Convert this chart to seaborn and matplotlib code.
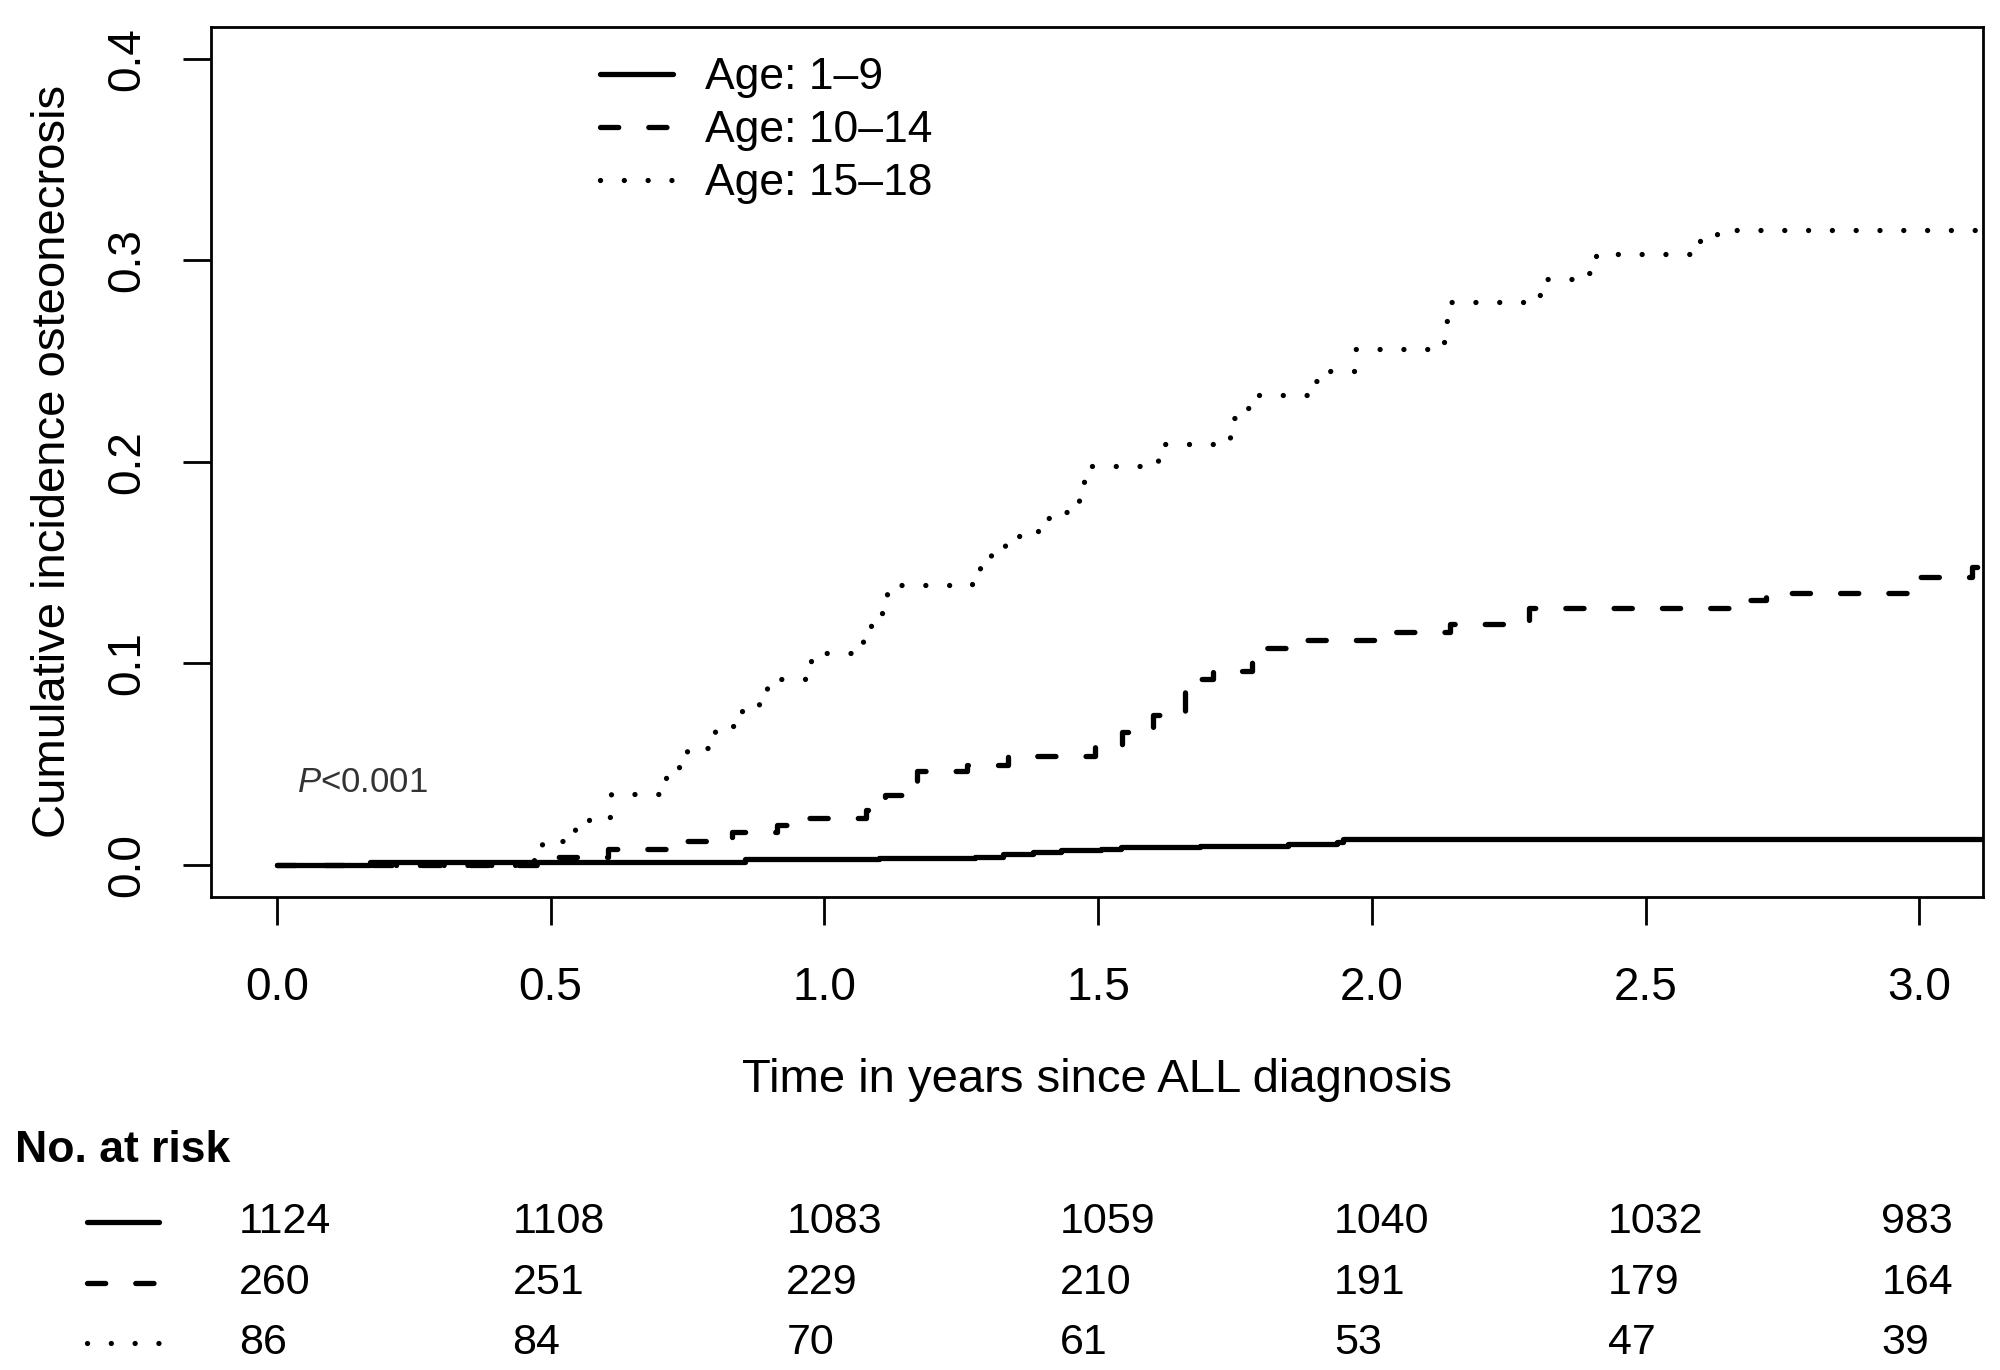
import numpy as np
import pandas as pd
import matplotlib
matplotlib.use("Agg")
import matplotlib.pyplot as plt
import matplotlib.transforms as mtransforms
from matplotlib.lines import Line2D
import seaborn as sns

# cumulative incidence step curves (time in years, value)
t_1_9 = [0, 0.17, 0.855, 1.10, 1.275, 1.327, 1.381, 1.433, 1.505, 1.542, 1.686, 1.846, 1.937, 1.947, 3.12]
ci_1_9 = [0, 0.0015, 0.0027, 0.0033, 0.0040, 0.0053, 0.0065, 0.0075, 0.0078, 0.0086, 0.0094, 0.0103, 0.0112, 0.0128, 0.0128]

t_10_14 = [0, 0.50, 0.605, 0.727, 0.832, 0.913, 0.948, 1.077, 1.111, 1.17, 1.261, 1.336, 1.494, 1.543, 1.601,
           1.659, 1.709, 1.781, 1.859, 2.02, 2.142, 2.287, 2.68, 2.72, 2.986, 3.096, 3.12]
ci_10_14 = [0, 0.004, 0.0078, 0.0116, 0.0161, 0.0199, 0.0232, 0.0272, 0.0346, 0.0467, 0.0497, 0.0541, 0.0583,
            0.0658, 0.0744, 0.0923, 0.0964, 0.1077, 0.1117, 0.1155, 0.1196, 0.1275, 0.1312, 0.1349, 0.1427,
            0.1478, 0.1478]

t_15_18 = [0, 0.47, 0.485, 0.545, 0.57, 0.61, 0.71, 0.735, 0.75, 0.80, 0.85, 0.88, 0.895, 0.965, 0.975, 1.07,
           1.085, 1.105, 1.115, 1.27, 1.285, 1.305, 1.33, 1.39, 1.42, 1.45, 1.465, 1.475, 1.61, 1.73, 1.74,
           1.76, 1.785, 1.89, 1.915, 1.97, 2.125, 2.135, 2.145, 2.305, 2.32, 2.395, 2.41, 2.60, 2.63, 3.12]
ci_15_18 = [0, 0.0035, 0.012, 0.018, 0.0235, 0.035, 0.046, 0.051, 0.058, 0.069, 0.078, 0.082, 0.092, 0.095,
            0.105, 0.112, 0.124, 0.128, 0.139, 0.143, 0.151, 0.158, 0.163, 0.172, 0.175, 0.18, 0.187, 0.198,
            0.209, 0.212, 0.222, 0.227, 0.233, 0.24, 0.245, 0.256, 0.2595, 0.270, 0.2795, 0.283, 0.291, 0.294,
            0.303, 0.311, 0.315, 0.315]

groups = ["Age: 1\u20139", "Age: 10\u201314", "Age: 15\u201318"]

# numbers at risk
risk_times = [0.0, 0.5, 1.0, 1.5, 2.0, 2.5, 3.0]
risk_1_9 = [1124, 1108, 1083, 1059, 1040, 1032, 983]
risk_10_14 = [260, 251, 229, 210, 191, 179, 164]
risk_15_18 = [86, 84, 70, 61, 53, 47, 39]

x_ticks = [0.0, 0.5, 1.0, 1.5, 2.0, 2.5, 3.0]
y_ticks = [0.0, 0.1, 0.2, 0.3, 0.4]

df = pd.concat([
    pd.DataFrame({"time": t_1_9, "ci": ci_1_9, "group": groups[0]}),
    pd.DataFrame({"time": t_10_14, "ci": ci_10_14, "group": groups[1]}),
    pd.DataFrame({"time": t_15_18, "ci": ci_15_18, "group": groups[2]}),
], ignore_index=True)

sns.set_theme(style="ticks")
plt.rcParams['font.family'] = ['Liberation Sans', 'DejaVu Sans']
plt.rcParams['mathtext.fontset'] = 'custom'
plt.rcParams['mathtext.it'] = 'Liberation Sans:italic'
plt.rcParams['mathtext.rm'] = 'Liberation Sans'
plt.rcParams['text.color'] = 'black'
plt.rcParams['axes.labelcolor'] = 'black'
plt.rcParams['xtick.color'] = 'black'
plt.rcParams['ytick.color'] = 'black'

LW = 3.8
dash_map = {groups[0]: "", groups[1]: (3.45, 5.7), groups[2]: (0.01, 4.5)}

fig = plt.figure(figsize=(20, 13.7), dpi=100)
ax = fig.add_axes([0.10525, 0.34526, 0.88625, 0.63518])

sns.lineplot(data=df, x="time", y="ci", style="group", style_order=groups, dashes=dash_map,
             color="black", lw=LW, estimator=None, sort=False, drawstyle="steps-post",
             dash_capstyle="round", solid_capstyle="round", legend=False, ax=ax)

ax.set_xlim(-0.121, 3.116)
ax.set_ylim(-0.016, 0.416)
ax.set_xticks(x_ticks)
ax.set_xticklabels([f"{v:.1f}" for v in x_ticks])
ax.set_yticks(y_ticks)
ax.set_yticklabels([f"{v:.1f}" for v in y_ticks])
for s in ax.spines.values():
    s.set_visible(True)
    s.set_linewidth(2)
    s.set_color("black")
ax.tick_params(axis="both", direction="out", length=20, width=2, colors="black", labelsize=33)
ax.tick_params(axis="x", pad=30)
ax.tick_params(axis="y", pad=24)
for lab in ax.get_yticklabels():
    lab.set_rotation(90)
    lab.set_va("center")
    lab.set_ha("right")
ax.set_xlabel("Time in years since ALL diagnosis", fontsize=34, labelpad=34)
ax.set_ylabel("Cumulative incidence osteonecrosis", fontsize=34, labelpad=22)

# legend
handles = ax.get_lines()[:3]
ax.legend(handles, groups, loc="upper left", bbox_to_anchor=(0.2197, 0.965), frameon=False,
          fontsize=32, handlelength=1.64, handletextpad=0.72, labelspacing=0.27,
          borderpad=0, borderaxespad=0)

ax.text(0.037, 0.041, r"$P$<0.001", fontsize=25, color="#333333", ha="left", va="center")

# number at risk table
fig.text(0.0077, 0.160, "No. at risk", fontsize=32, fontweight="bold", ha="left", va="center")
row_y = [0.108, 0.0635, 0.0195]
base = mtransforms.blended_transform_factory(ax.transData, fig.transFigure)
trans = mtransforms.offset_copy(base, fig=fig, x=-38, y=0, units="dots")
for y, counts, g in zip(row_y, [risk_1_9, risk_10_14, risk_15_18], groups):
    for t, n in zip(risk_times, counts):
        fig.text(t, y, str(n), transform=trans, fontsize=31, ha="left", va="center")
    d = dash_map[g]
    ln = Line2D([0.0435, 0.0797], [y, y], transform=fig.transFigure, color="black", lw=LW,
                dash_capstyle="round", solid_capstyle="round")
    if d:
        ln.set_dashes(d)
    fig.add_artist(ln)

fig.savefig("out.png", dpi=100)
